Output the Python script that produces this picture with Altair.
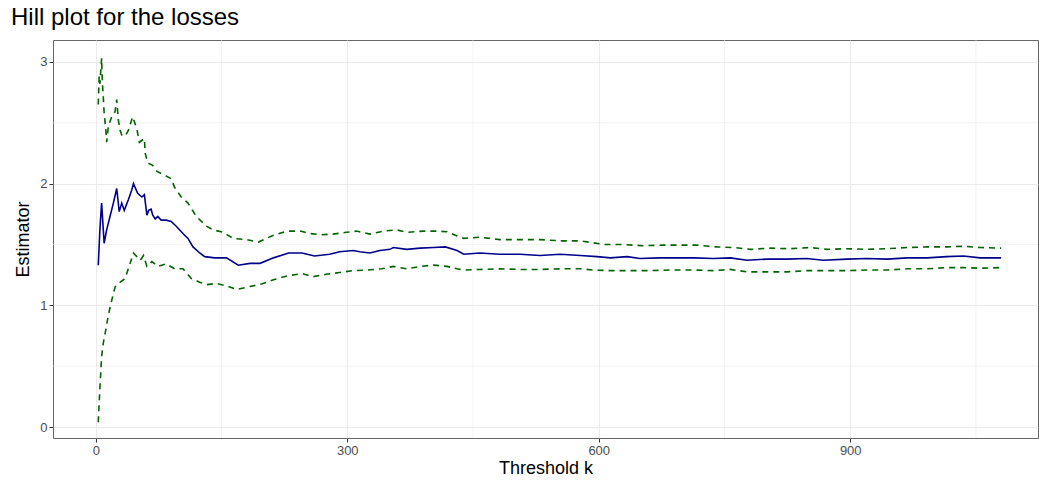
import altair as alt
import pandas as pd

# Hill estimator of the tail index against the number of upper order statistics k
est_k = [3, 5, 7, 10, 13, 17, 21, 25, 28, 31, 34, 39, 43, 45, 50, 55, 58, 61, 63, 66, 68,
         71, 74, 78, 84, 90, 96, 104, 110, 116, 124, 130, 142, 156, 170, 184, 196, 212,
         230, 246, 261, 279, 291, 307, 315, 327, 339, 351, 355, 371, 387, 403, 417, 431,
         439, 458, 482, 506, 530, 554, 578, 598, 614, 634, 649, 673, 697, 713, 737, 757,
         777, 801, 824, 848, 868, 896, 920, 944, 968, 992, 1015, 1035, 1055, 1080]
est_val = [1.33, 1.63, 1.84, 1.51, 1.62, 1.73, 1.84, 1.96, 1.77, 1.84, 1.78, 1.87, 1.95,
           2.00, 1.92, 1.89, 1.91, 1.74, 1.78, 1.79, 1.74, 1.71, 1.73, 1.70, 1.70, 1.69,
           1.65, 1.59, 1.55, 1.48, 1.43, 1.40, 1.39, 1.39, 1.33, 1.345, 1.345, 1.39, 1.43,
           1.43, 1.405, 1.42, 1.44, 1.45, 1.44, 1.43, 1.45, 1.46, 1.475, 1.46, 1.47, 1.475,
           1.48, 1.45, 1.42, 1.43, 1.42, 1.42, 1.41, 1.42, 1.41, 1.40, 1.39, 1.40, 1.385,
           1.39, 1.39, 1.39, 1.385, 1.39, 1.37, 1.38, 1.38, 1.385, 1.37, 1.38, 1.385, 1.38,
           1.39, 1.39, 1.40, 1.405, 1.39, 1.39]

# Upper bound of the confidence band
up_k = [3, 4, 5, 6, 7, 8, 9, 10, 12, 13, 15, 19, 23, 25, 27, 29, 31, 35, 39, 44, 46, 49,
        52, 58, 59, 62, 68, 73, 82, 90, 94, 102, 110, 120, 132, 140, 152, 164, 180, 194,
        210, 228, 244, 255, 269, 283, 299, 311, 327, 343, 359, 371, 391, 407, 419, 431,
        439, 458, 482, 506, 530, 554, 578, 606, 626, 653, 677, 701, 717, 741, 761, 781,
        805, 828, 852, 872, 896, 920, 944, 968, 992, 1015, 1035, 1055, 1080]
up_val = [2.65, 2.88, 2.82, 2.93, 3.03, 2.82, 2.71, 2.58, 2.44, 2.34, 2.47, 2.55, 2.59,
          2.69, 2.52, 2.44, 2.40, 2.39, 2.44, 2.55, 2.51, 2.45, 2.34, 2.37, 2.25, 2.17,
          2.15, 2.10, 2.07, 2.04, 1.97, 1.89, 1.84, 1.73, 1.65, 1.62, 1.60, 1.55, 1.54,
          1.52, 1.57, 1.61, 1.61, 1.59, 1.58, 1.585, 1.60, 1.61, 1.585, 1.61, 1.62, 1.60,
          1.61, 1.61, 1.605, 1.57, 1.55, 1.56, 1.54, 1.54, 1.54, 1.53, 1.53, 1.50, 1.50,
          1.49, 1.495, 1.495, 1.495, 1.48, 1.475, 1.46, 1.47, 1.465, 1.475, 1.46, 1.465,
          1.46, 1.465, 1.475, 1.48, 1.48, 1.485, 1.475, 1.47]

# Lower bound of the confidence band
lo_k = [3, 4, 5, 6, 7, 9, 12, 15, 19, 23, 27, 35, 41, 45, 49, 53, 57, 61, 67, 74, 84, 94,
        104, 114, 124, 132, 144, 156, 168, 184, 198, 212, 230, 247, 259, 275, 291, 307,
        323, 341, 355, 371, 387, 403, 419, 431, 439, 458, 482, 506, 530, 554, 578, 594,
        614, 637, 661, 685, 713, 737, 757, 777, 801, 824, 848, 872, 896, 920, 944, 968,
        992, 1015, 1035, 1055, 1080]
lo_val = [0.04, 0.19, 0.33, 0.45, 0.58, 0.69, 0.80, 0.92, 1.04, 1.15, 1.18, 1.22, 1.345,
          1.43, 1.40, 1.37, 1.41, 1.32, 1.36, 1.32, 1.34, 1.30, 1.30, 1.22, 1.19, 1.17,
          1.18, 1.16, 1.13, 1.155, 1.175, 1.21, 1.245, 1.26, 1.235, 1.255, 1.27, 1.285,
          1.29, 1.30, 1.32, 1.30, 1.32, 1.33, 1.32, 1.30, 1.29, 1.295, 1.30, 1.295, 1.295,
          1.30, 1.30, 1.29, 1.285, 1.285, 1.285, 1.29, 1.29, 1.285, 1.295, 1.275, 1.275,
          1.275, 1.285, 1.285, 1.285, 1.29, 1.29, 1.30, 1.30, 1.31, 1.31, 1.305, 1.31]

x_ticks = [0, 300, 600, 900]
x_minor = [150, 450, 750, 1050]
y_ticks = [0, 1, 2, 3]
y_minor = [0.5, 1.5, 2.5]

X_DOMAIN = [-51, 1124]
Y_DOMAIN = [-0.09, 3.18]

est_df = pd.DataFrame({"k": est_k, "value": est_val})
band_df = pd.concat([
    pd.DataFrame({"k": up_k, "value": up_val, "bound": "upper"}),
    pd.DataFrame({"k": lo_k, "value": lo_val, "bound": "lower"}),
])

x_scale = alt.Scale(domain=X_DOMAIN, nice=False, zero=False)
y_scale = alt.Scale(domain=Y_DOMAIN, nice=False, zero=False)

grid_color = "#ebebeb"

vminor = alt.Chart(pd.DataFrame({"k": x_minor})).mark_rule(
    color=grid_color, strokeWidth=0.6
).encode(x=alt.X("k:Q", scale=x_scale))
hminor = alt.Chart(pd.DataFrame({"v": y_minor})).mark_rule(
    color=grid_color, strokeWidth=0.6
).encode(y=alt.Y("v:Q", scale=y_scale))

band = alt.Chart(band_df).mark_line(
    color="#006400", strokeWidth=1.6, strokeDash=[6, 5]
).encode(
    x=alt.X("k:Q", scale=x_scale),
    y=alt.Y("value:Q", scale=y_scale),
    detail="bound:N",
)

hill = alt.Chart(est_df).mark_line(color="#00008b", strokeWidth=1.6).encode(
    x=alt.X(
        "k:Q",
        scale=x_scale,
        axis=alt.Axis(values=x_ticks, title="Threshold k", format="d"),
    ),
    y=alt.Y(
        "value:Q",
        scale=y_scale,
        axis=alt.Axis(values=y_ticks, title="Estimator", format="d"),
    ),
)

chart = (
    alt.layer(vminor, hminor, band, hill)
    .properties(
        width=985,
        height=398,
        autosize=alt.AutoSizeParams(type="none"),
        padding={"left": 53, "top": 40, "right": 1, "bottom": 55},
        title=alt.TitleParams(
            "Hill plot for the losses",
            anchor="start",
            frame="group",
            fontSize=24,
            font="Liberation Sans",
            fontWeight="normal",
            color="#000000",
            offset=10,
            dx=-42,
        ),
    )
    .configure_view(stroke="#666666", strokeWidth=1)
    .configure_axis(
        grid=True,
        gridColor=grid_color,
        gridWidth=1.1,
        domain=False,
        tickColor="#333333",
        tickSize=4,
        labelFont="Liberation Sans",
        labelFontSize=13,
        labelColor="#4d4d4d",
        labelPadding=2,
        titleFont="Liberation Sans",
        titleFontSize=18,
        titleFontWeight="normal",
        titleColor="#000000",
    )
    .configure_axisX(titlePadding=2)
    .configure_axisY(titlePadding=7)
)

chart.save("out.html", embed_options={"renderer": "svg", "actions": False})
